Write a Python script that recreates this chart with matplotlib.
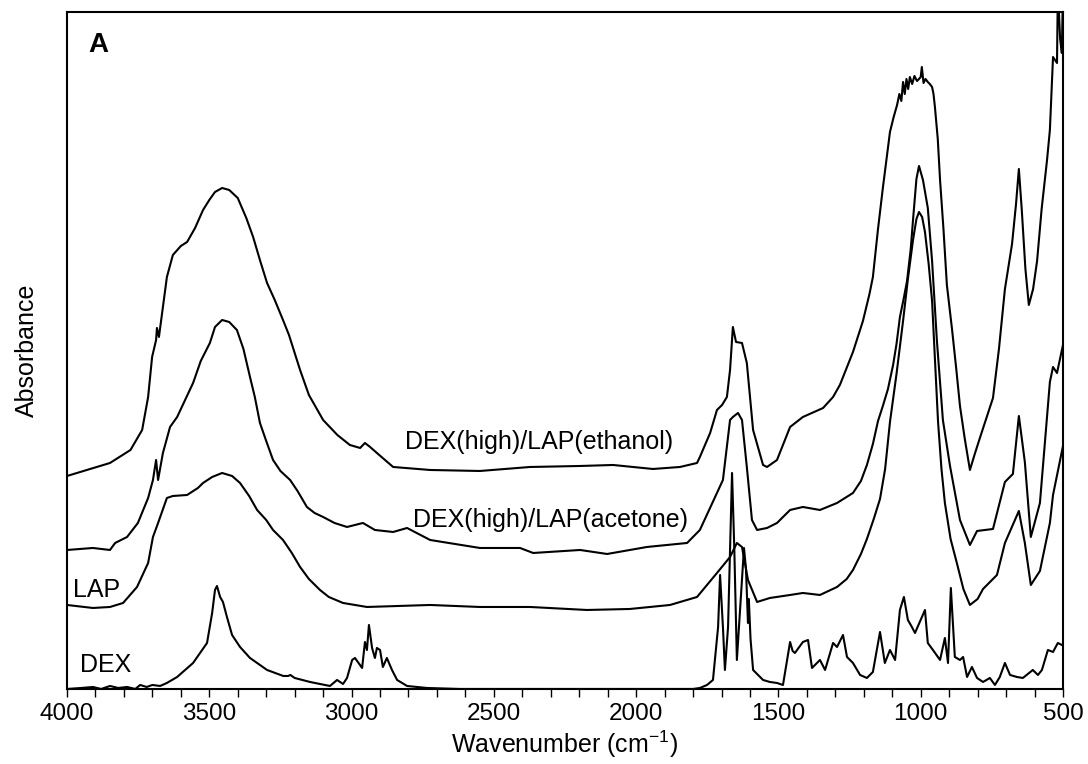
import matplotlib.pyplot as plt
import matplotlib.ticker as mticker

plt.rcParams['font.family'] = ['Liberation Sans', 'DejaVu Sans']
plt.rcParams['mathtext.default'] = 'regular'

# DEX(high)/LAP(ethanol) spectrum (wavenumber in cm-1, absorbance in a.u.)
eth_wn = [4000, 3930, 3849, 3777, 3736, 3715, 3701, 3687, 3684, 3677, 3649, 3628,
          3600, 3578, 3550, 3522, 3500, 3480, 3455, 3430, 3400, 3370, 3346, 3320,
          3297, 3270, 3241, 3220, 3181, 3150, 3100, 3050, 3006, 2970, 2953, 2935,
          2911, 2854, 2724, 2549, 2373, 2197, 2081, 1941, 1846, 1786, 1776, 1740,
          1716, 1698, 1681, 1670, 1660, 1649, 1628, 1611, 1589, 1554, 1540, 1505,
          1459, 1414, 1343, 1308, 1284, 1238, 1203, 1180, 1168, 1150, 1133, 1120,
          1108, 1095, 1083, 1075, 1068, 1062, 1056, 1050, 1044, 1038, 1030, 1022,
          1013, 1006, 1000, 996, 990, 983, 975, 968, 960, 955, 950, 940, 932, 920,
          908, 890, 875, 862, 845, 827, 810, 792, 770, 746, 725, 704, 690, 679, 665,
          655, 645, 632, 620, 605, 591, 575, 556, 546, 535, 528, 521, 518, 510, 504,
          500]
eth_abs = [2.13, 2.19, 2.26, 2.39, 2.59, 2.92, 3.32, 3.49, 3.61, 3.52, 4.12, 4.34,
           4.43, 4.47, 4.61, 4.79, 4.89, 4.97, 5.01, 4.99, 4.91, 4.71, 4.52, 4.27,
           4.06, 3.89, 3.69, 3.54, 3.19, 2.94, 2.69, 2.54, 2.44, 2.41, 2.46, 2.42,
           2.36, 2.22, 2.19, 2.18, 2.22, 2.23, 2.24, 2.20, 2.22, 2.26, 2.32, 2.56,
           2.79, 2.84, 2.92, 3.19, 3.62, 3.47, 3.46, 3.26, 2.59, 2.24, 2.22, 2.29,
           2.62, 2.72, 2.81, 2.92, 3.04, 3.37, 3.68, 3.95, 4.12, 4.60, 5.01, 5.30,
           5.57, 5.72, 5.84, 5.95, 5.88, 6.07, 5.95, 6.10, 6.00, 6.12, 6.05, 6.13,
           6.08, 6.10, 6.12, 6.22, 6.06, 6.10, 6.07, 6.05, 6.02, 5.95, 5.82, 5.50, 5.09,
           4.60, 4.04, 3.60, 3.20, 2.83, 2.50, 2.19, 2.35, 2.51, 2.70, 2.91, 3.40, 4.00,
           4.25, 4.45, 4.85, 5.20, 4.80, 4.20, 3.84, 4.00, 4.28, 4.80, 5.29, 5.59, 6.32,
           6.29, 6.26, 7.00, 6.50, 6.36, 7.00]

# DEX(high)/LAP(acetone) spectrum
ace_wn = [4000, 3909, 3849, 3831, 3789, 3751, 3715, 3698, 3687, 3680, 3663, 3638,
          3613, 3557, 3530, 3498, 3480, 3455, 3430, 3403, 3380, 3357, 3340, 3322,
          3300, 3276, 3250, 3216, 3190, 3157, 3130, 3100, 3060, 3016, 2960, 2918,
          2854, 2805, 2724, 2549, 2408, 2362, 2197, 2102, 1962, 1821, 1776, 1716,
          1695, 1670, 1660, 1642, 1628, 1611, 1593, 1575, 1540, 1505, 1459, 1414,
          1354, 1294, 1238, 1210, 1189, 1168, 1150, 1133, 1115, 1097, 1085, 1073,
          1060, 1048, 1035, 1027, 1015, 1006, 992, 975, 960, 943, 922, 897, 862,
          827, 802, 746, 704, 676, 655, 634, 613, 581, 546, 535, 521, 500]
ace_abs = [1.39, 1.41, 1.39, 1.46, 1.52, 1.66, 1.91, 2.09, 2.29, 2.09, 2.36, 2.62,
           2.72, 3.06, 3.28, 3.46, 3.62, 3.69, 3.67, 3.59, 3.40, 3.12, 2.92, 2.66,
           2.48, 2.29, 2.18, 2.09, 1.98, 1.82, 1.76, 1.72, 1.66, 1.62, 1.66, 1.59,
           1.57, 1.61, 1.49, 1.41, 1.41, 1.36, 1.39, 1.35, 1.42, 1.46, 1.59, 1.96,
           2.09, 2.69, 2.72, 2.76, 2.69, 2.22, 1.69, 1.59, 1.61, 1.66, 1.79, 1.82,
           1.79, 1.86, 1.96, 2.08, 2.24, 2.45, 2.68, 2.83, 3.00, 3.24, 3.45, 3.72,
           3.90, 4.08, 4.40, 4.69, 5.10, 5.23, 5.09, 4.81, 4.28, 3.48, 2.69, 2.23,
           1.69, 1.44, 1.58, 1.60, 2.07, 2.15, 2.73, 2.27, 1.52, 1.86, 3.07, 3.22,
           3.16, 3.44]

# LAP spectrum
lap_wn = [4000, 3909, 3849, 3803, 3754, 3715, 3698, 3680, 3649, 3628, 3578, 3540,
          3522, 3490, 3455, 3420, 3392, 3360, 3332, 3300, 3276, 3241, 3210, 3181,
          3150, 3111, 3080, 3030, 2946, 2724, 2549, 2373, 2173, 2022, 1881, 1786,
          1716, 1670, 1646, 1628, 1607, 1575, 1530, 1459, 1414, 1354, 1294, 1260,
          1238, 1210, 1189, 1165, 1143, 1125, 1108, 1085, 1062, 1045, 1027, 1015,
          1006, 995, 985, 972, 960, 950, 939, 927, 915, 895, 873, 850, 827, 800, 781,
          732, 704, 655, 634, 613, 581, 546, 535, 500]
lap_abs = [0.84, 0.81, 0.82, 0.86, 1.02, 1.26, 1.52, 1.66, 1.91, 1.93, 1.94, 2.01,
           2.06, 2.12, 2.16, 2.13, 2.06, 1.93, 1.79, 1.69, 1.59, 1.49, 1.36, 1.22,
           1.10, 0.99, 0.92, 0.86, 0.82, 0.84, 0.82, 0.82, 0.79, 0.80, 0.84, 0.92,
           1.16, 1.32, 1.46, 1.42, 1.09, 0.87, 0.91, 0.94, 0.96, 0.94, 1.02, 1.10,
           1.19, 1.35, 1.50, 1.70, 1.90, 2.20, 2.67, 3.15, 3.68, 4.10, 4.49, 4.70,
           4.77, 4.72, 4.57, 4.25, 3.88, 3.30, 2.67, 2.20, 1.86, 1.50, 1.26, 1.00,
           0.84, 0.90, 1.00, 1.14, 1.46, 1.78, 1.46, 1.04, 1.18, 1.66, 1.94, 2.43]

# DEX spectrum
dex_wn = [4000, 3950, 3909, 3880, 3849, 3820, 3789, 3760, 3743, 3720, 3700, 3673,
          3649, 3613, 3557, 3508, 3490, 3480, 3473, 3462, 3452, 3438, 3420, 3392,
          3357, 3297, 3240, 3223, 3215, 3200, 3146, 3076, 3051, 3030, 3016, 2998,
          2988, 2963, 2953, 2946, 2939, 2928, 2918, 2911, 2900, 2890, 2876, 2858,
          2840, 2805, 2735, 2619, 1800, 1776, 1751, 1730, 1712, 1705, 1695, 1688,
          1677, 1663, 1655, 1646, 1621, 1614, 1607, 1604, 1598, 1589, 1554, 1530,
          1505, 1484, 1459, 1450, 1442, 1414, 1396, 1382, 1354, 1336, 1308, 1294,
          1273, 1259, 1238, 1213, 1189, 1168, 1143, 1126, 1108, 1090, 1073, 1059,
          1045, 1031, 1020, 985, 975, 957, 932, 915, 904, 894, 880, 862, 851, 837,
          820, 802, 781, 757, 739, 722, 704, 686, 662, 641, 606, 588, 574, 553, 535,
          518, 504, 500]
dex_abs = [0.00, 0.01, 0.02, 0.00, 0.03, 0.01, 0.02, 0.00, 0.04, 0.02, 0.04, 0.03,
           0.06, 0.12, 0.26, 0.46, 0.76, 0.99, 1.03, 0.92, 0.87, 0.72, 0.54, 0.42,
           0.31, 0.19, 0.13, 0.13, 0.14, 0.11, 0.07, 0.03, 0.09, 0.05, 0.11, 0.29,
           0.31, 0.21, 0.47, 0.39, 0.64, 0.41, 0.31, 0.41, 0.39, 0.22, 0.31, 0.19,
           0.09, 0.03, 0.01, 0.00, 0.00, 0.01, 0.04, 0.09, 0.62, 1.14, 0.62, 0.19,
           0.62, 2.16, 1.40, 0.29, 1.41, 1.20, 0.66, 0.90, 0.50, 0.19, 0.09, 0.07,
           0.06, 0.04, 0.47, 0.38, 0.36, 0.47, 0.49, 0.21, 0.29, 0.19, 0.46, 0.42,
           0.54, 0.32, 0.26, 0.14, 0.11, 0.17, 0.57, 0.26, 0.39, 0.29, 0.79, 0.92,
           0.69, 0.62, 0.56, 0.79, 0.46, 0.39, 0.29, 0.51, 0.26, 1.01, 0.32, 0.29, 0.32,
           0.12, 0.22, 0.11, 0.07, 0.11, 0.04, 0.12, 0.26, 0.14, 0.12, 0.11, 0.19, 0.14,
           0.19, 0.39, 0.37, 0.46, 0.44, 0.44]

fig = plt.figure(figsize=(10.88, 7.64), dpi=100)
ax = fig.add_axes([0.0616, 0.0982, 0.9154, 0.8861])

for wn, ab in [(eth_wn, eth_abs), (ace_wn, ace_abs), (lap_wn, lap_abs), (dex_wn, dex_abs)]:
    ax.plot(wn, ab, color='black', lw=1.5, solid_joinstyle='round')

ax.set_xlim(4000, 500)
ax.set_ylim(0, 6.77)
ax.xaxis.set_major_locator(mticker.MultipleLocator(500))
ax.xaxis.set_minor_locator(mticker.MultipleLocator(100))
ax.tick_params(axis='x', which='both', direction='out', length=6, width=1,
               labelsize=17.5, pad=4)
ax.set_yticks([])
for s in ax.spines.values():
    s.set_linewidth(1.5)

ax.set_xlabel('Wavenumber (cm$^{-1}$)', fontsize=18, labelpad=3)
ax.set_ylabel('Absorbance', fontsize=18, labelpad=20)

ax.text(2812, 2.47, 'DEX(high)/LAP(ethanol)', fontsize=18, va='center', ha='left')
ax.text(2784, 1.69, 'DEX(high)/LAP(acetone)', fontsize=18, va='center', ha='left')
ax.text(3979, 0.99, 'LAP', fontsize=18, va='center', ha='left')
ax.text(3954, 0.24, 'DEX', fontsize=18, va='center', ha='left')
ax.text(0.021, 0.951, 'A', transform=ax.transAxes, fontsize=20,
        fontweight='bold', va='center', ha='left')

fig.savefig('out.png', dpi=100)
